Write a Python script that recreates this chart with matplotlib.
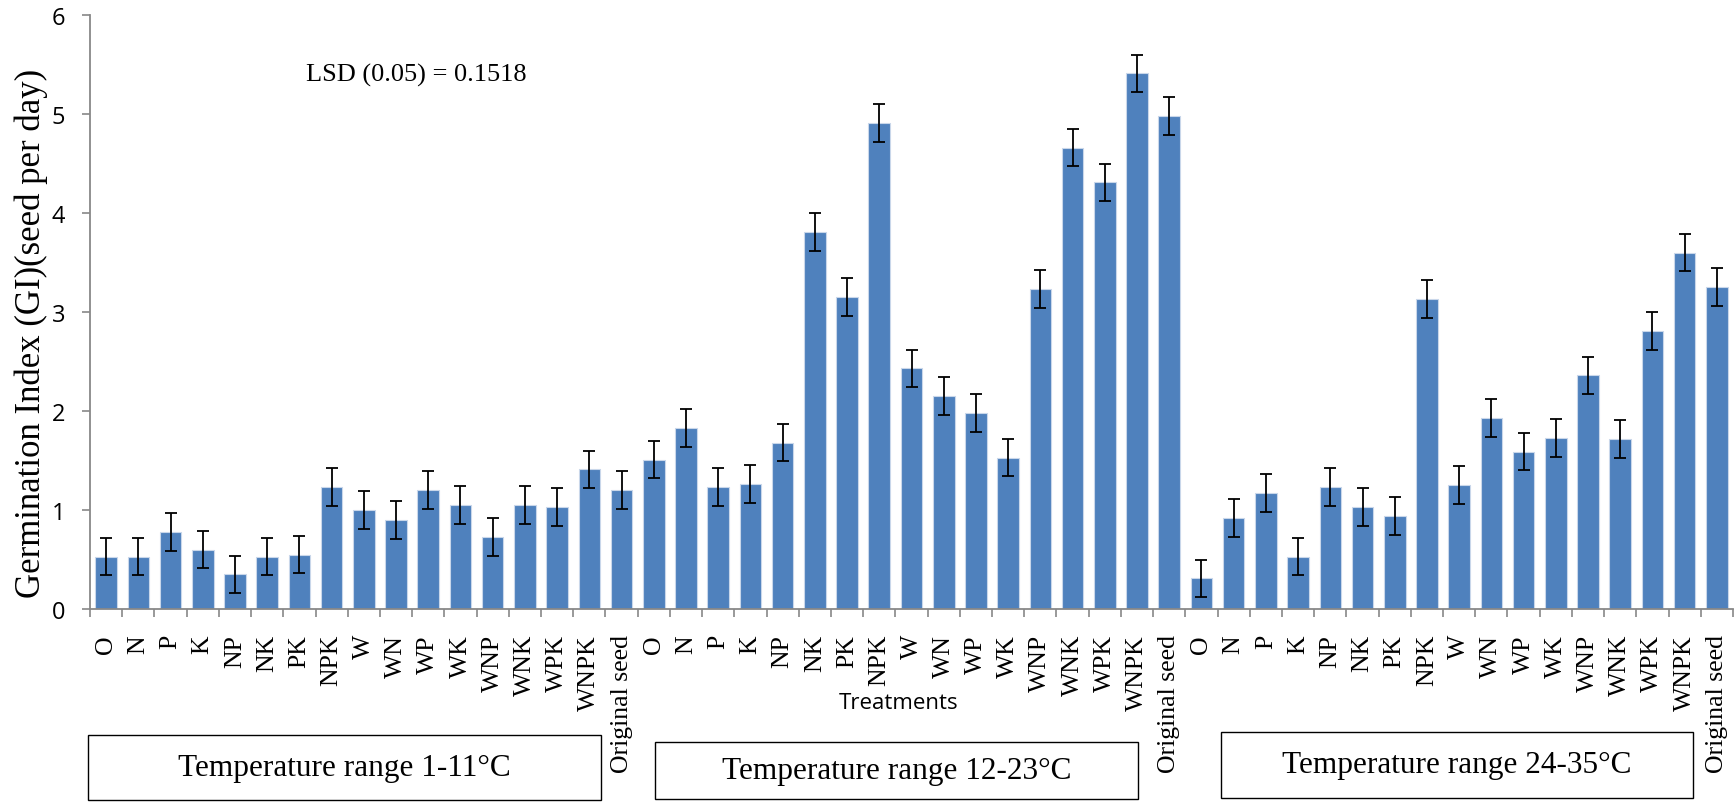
import matplotlib
matplotlib.use("Agg")
import matplotlib.pyplot as plt
from matplotlib.patches import Rectangle
import numpy as np

treatments = ['O', 'N', 'P', 'K', 'NP', 'NK', 'PK', 'NPK', 'W', 'WN', 'WP', 'WK',
              'WNP', 'WNK', 'WPK', 'WNPK', 'Original seed']
gi_1_11 = [0.53, 0.53, 0.78, 0.60, 0.35, 0.53, 0.55, 1.23, 1.00, 0.90, 1.20, 1.05,
           0.73, 1.05, 1.03, 1.41, 1.20]
gi_12_23 = [1.51, 1.83, 1.23, 1.26, 1.68, 3.81, 3.15, 4.91, 2.43, 2.15, 1.98, 1.53,
            3.23, 4.66, 4.31, 5.41, 4.98]
gi_24_35 = [0.31, 0.92, 1.17, 0.53, 1.23, 1.03, 0.94, 3.13, 1.25, 1.93, 1.59, 1.73,
            2.36, 1.72, 2.81, 3.60, 3.25]
err_1_11 = [0.19] * 17
err_12_23 = [0.19] * 17
err_24_35 = [0.19] * 17
range_labels = ['Temperature range 1-11°C', 'Temperature range 12-23°C',
                'Temperature range 24-35°C']
lsd_text = 'LSD (0.05) = 0.1518'

labels = treatments * 3
values = gi_1_11 + gi_12_23 + gi_24_35
errors = err_1_11 + err_12_23 + err_24_35
x = np.arange(len(values))

W, H = 1736, 803
fig = plt.figure(figsize=(W / 100, H / 100), dpi=100)
ax = fig.add_axes([90 / W, 1 - 610 / H, (1733 - 90) / W, (610 - 16) / H])

ax.bar(x, values, width=0.67, color='#4F81BD', edgecolor='#C9D7EA', linewidth=0.8, zorder=2)
ax.errorbar(x, values, yerr=errors, fmt='none', ecolor='black', elinewidth=1.3,
            capsize=4.5, capthick=1.3, zorder=3)

ax.set_xlim(-0.5, len(values) - 0.5)
ax.set_ylim(0, 6)
ax.set_yticks(range(0, 7))
ax.set_yticklabels([str(v) for v in range(0, 7)], family='Open Sans', fontsize=17)
ax.set_xticks(x)
ax.set_xticklabels(labels, rotation=90, family='Liberation Serif', fontsize=18.5)
ax.set_xticks(np.arange(-0.5, len(values), 1.0), minor=True)
ax.tick_params(axis='x', which='major', length=0, pad=18)
ax.tick_params(axis='x', which='minor', length=6, width=1.2, color='#888888')
ax.tick_params(axis='y', length=6, width=1.2, color='#888888', pad=12)
for s in ['top', 'right']:
    ax.spines[s].set_visible(False)
for s in ['left', 'bottom']:
    ax.spines[s].set_color('#888888')
    ax.spines[s].set_linewidth(1.3)

fig.text(31 / W, 1 - 333 / H, 'Germination Index (GI)(seed per day)', rotation=90,
         ha='center', va='center', family='Liberation Serif', fontsize=25)
fig.text(899 / W, 1 - 704 / H, 'Treatments', ha='center', va='center',
         family='Open Sans', fontsize=16)
fig.text(306 / W, 1 - 75 / H, lsd_text, ha='left', va='center',
         family='Liberation Serif', fontsize=19)

boxes = [(88, 601, 736, 801), (655, 1138, 743, 800), (1221, 1693, 733, 799)]
for (x0, x1, y0, y1), txt in zip(boxes, range_labels):
    fig.patches.append(Rectangle((x0 / W, 1 - y1 / H), (x1 - x0) / W, (y1 - y0) / H,
                                 transform=fig.transFigure, fill=False,
                                 edgecolor='black', linewidth=1.0))
    fig.text((x0 + x1) / 2 / W, 1 - (y0 + y1) / 2 / H, txt, ha='center', va='center',
             family='Liberation Serif', fontsize=22.5)

fig.savefig('out.png', dpi=100)
